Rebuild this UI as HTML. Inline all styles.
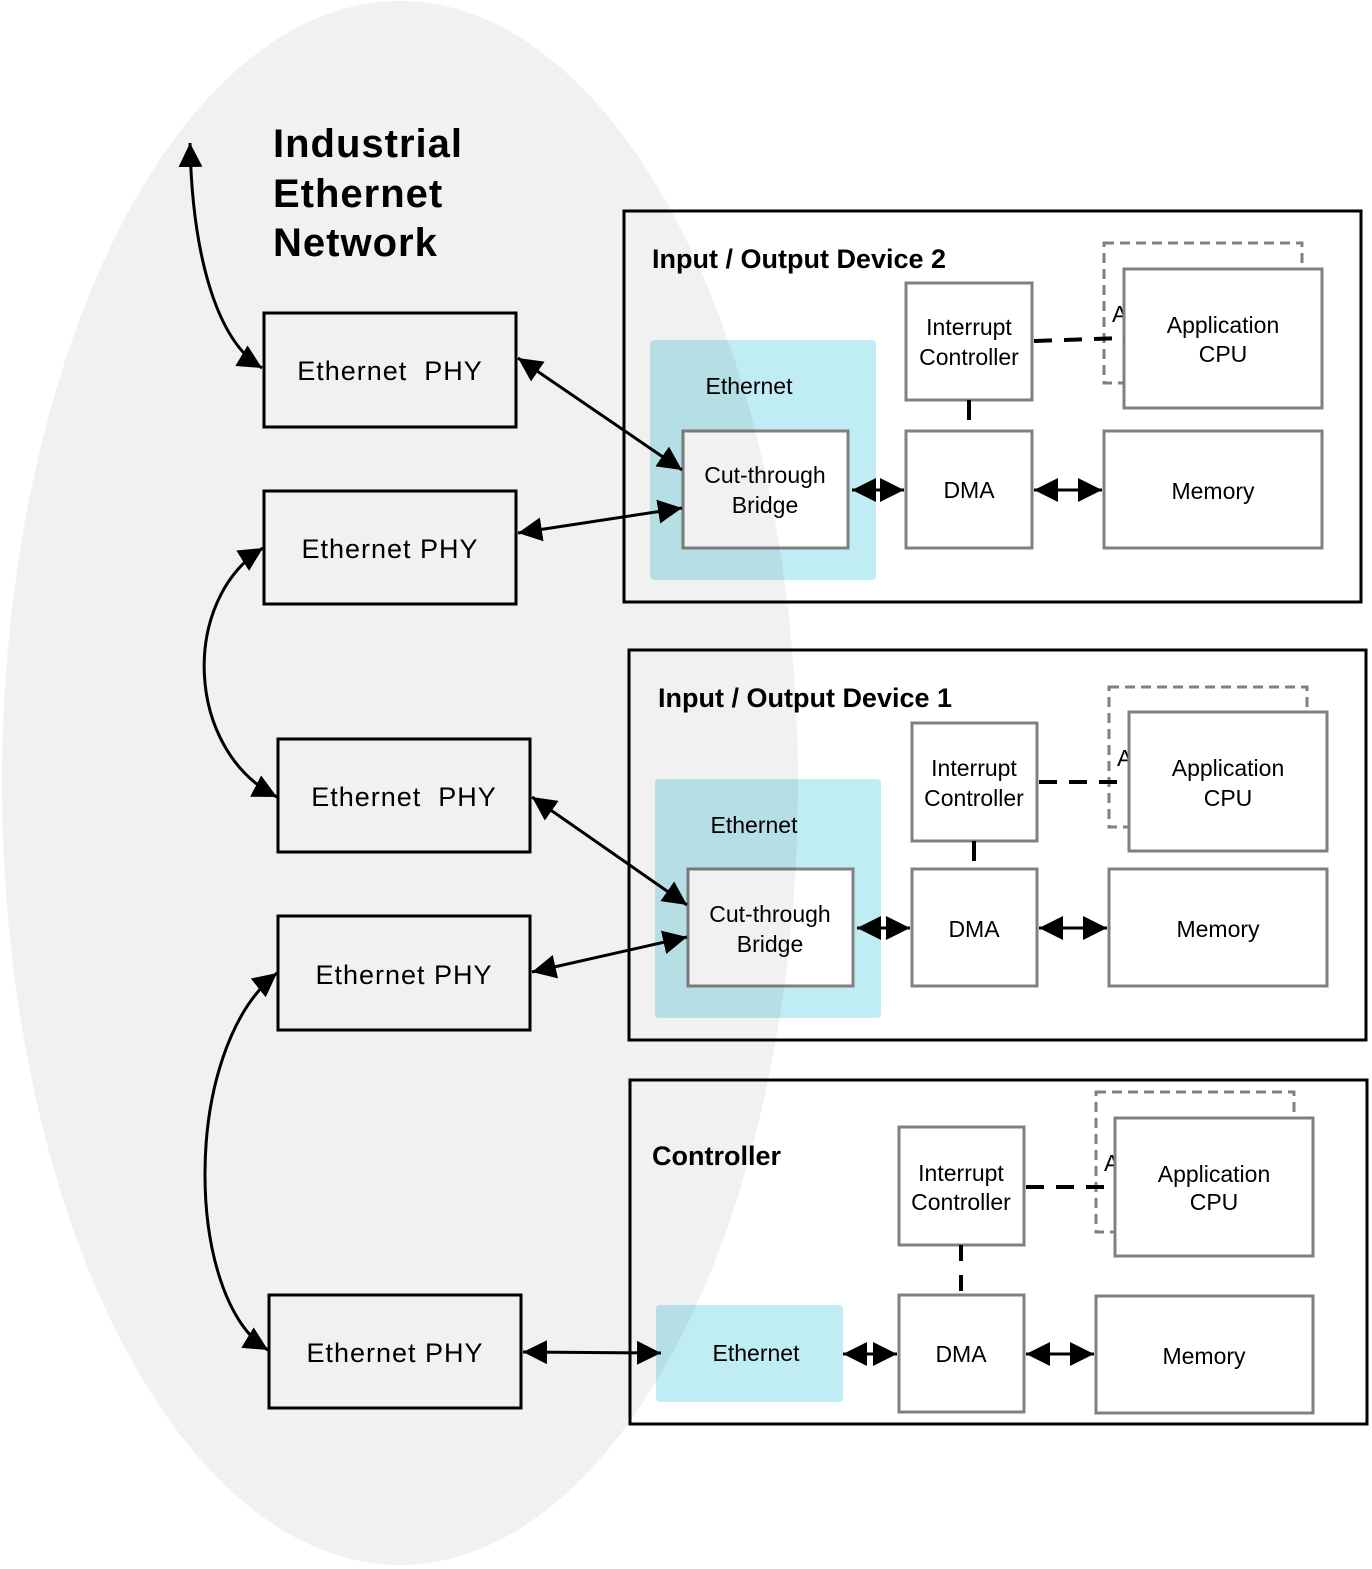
<!DOCTYPE html>
<html><head><meta charset="utf-8"><style>
html,body{margin:0;padding:0;background:#fff}
svg{display:block}
text{font-family:"Liberation Sans",Arial,sans-serif;fill:#000}
</style></head><body>
<svg width="1372" height="1569" viewBox="0 0 1372 1569" xmlns="http://www.w3.org/2000/svg">
<defs>
<marker id="b" viewBox="0 0 10 10" refX="10" refY="5" markerWidth="24" markerHeight="24" markerUnits="userSpaceOnUse" orient="auto-start-reverse"><path d="M0,0L10,5L0,10z" fill="#000"/></marker>
</defs>
<rect width="1372" height="1569" fill="#fff"/>

<!-- Device 2 -->
<g>
<rect x="624" y="211" width="737" height="391" fill="#fff" stroke="#000" stroke-width="3"/>
<text x="652" y="268" font-size="27" font-weight="bold">Input / Output Device 2</text>
<rect x="650" y="340" width="226" height="240" rx="4" fill="#c0ecf3"/>
<text x="749" y="394" font-size="23" text-anchor="middle">Ethernet</text>
<rect x="683" y="431" width="165" height="117" fill="#fff" stroke="#808080" stroke-width="3"/>
<text x="765" y="483" font-size="23" text-anchor="middle">Cut-through</text>
<text x="765" y="513" font-size="23" text-anchor="middle">Bridge</text>
<rect x="906" y="283" width="126" height="117" fill="#fff" stroke="#808080" stroke-width="3"/>
<text x="969" y="335" font-size="23" text-anchor="middle">Interrupt</text>
<text x="969" y="365" font-size="23" text-anchor="middle">Controller</text>
<rect x="906" y="431" width="126" height="117" fill="#fff" stroke="#808080" stroke-width="3"/>
<text x="969" y="498" font-size="23" text-anchor="middle">DMA</text>
<rect x="1104" y="431" width="218" height="117" fill="#fff" stroke="#808080" stroke-width="3"/>
<text x="1213" y="499" font-size="23" text-anchor="middle">Memory</text>
<rect x="1104" y="243" width="198" height="140" fill="#fff" stroke="#808080" stroke-width="3" stroke-dasharray="10,6"/>
<text x="1112" y="322" font-size="23">A</text>
<rect x="1124" y="269" width="198" height="139" fill="#fff" stroke="#808080" stroke-width="3"/>
<text x="1223" y="333" font-size="23" text-anchor="middle">Application</text>
<text x="1223" y="362" font-size="23" text-anchor="middle">CPU</text>
<line x1="1034" y1="341" x2="1124" y2="338" stroke="#000" stroke-width="4" stroke-dasharray="18,12"/>
<line x1="969" y1="400" x2="969" y2="420" stroke="#000" stroke-width="4"/>
<line x1="852" y1="490" x2="904" y2="490" stroke="#000" stroke-width="3" marker-start="url(#b)" marker-end="url(#b)"/>
<line x1="1034" y1="490" x2="1102" y2="490" stroke="#000" stroke-width="3" marker-start="url(#b)" marker-end="url(#b)"/>
</g>

<!-- Device 1 -->
<g>
<rect x="629" y="650" width="737" height="390" fill="#fff" stroke="#000" stroke-width="3"/>
<text x="658" y="707" font-size="27" font-weight="bold">Input / Output Device 1</text>
<rect x="655" y="779" width="226" height="239" rx="4" fill="#c0ecf3"/>
<text x="754" y="833" font-size="23" text-anchor="middle">Ethernet</text>
<rect x="688" y="869" width="165" height="117" fill="#fff" stroke="#808080" stroke-width="3"/>
<text x="770" y="922" font-size="23" text-anchor="middle">Cut-through</text>
<text x="770" y="952" font-size="23" text-anchor="middle">Bridge</text>
<rect x="912" y="723" width="125" height="118" fill="#fff" stroke="#808080" stroke-width="3"/>
<text x="974" y="776" font-size="23" text-anchor="middle">Interrupt</text>
<text x="974" y="806" font-size="23" text-anchor="middle">Controller</text>
<rect x="912" y="869" width="125" height="117" fill="#fff" stroke="#808080" stroke-width="3"/>
<text x="974" y="937" font-size="23" text-anchor="middle">DMA</text>
<rect x="1109" y="869" width="218" height="117" fill="#fff" stroke="#808080" stroke-width="3"/>
<text x="1218" y="937" font-size="23" text-anchor="middle">Memory</text>
<rect x="1109" y="687" width="198" height="140" fill="#fff" stroke="#808080" stroke-width="3" stroke-dasharray="10,6"/>
<text x="1117" y="766" font-size="23">A</text>
<rect x="1129" y="712" width="198" height="139" fill="#fff" stroke="#808080" stroke-width="3"/>
<text x="1228" y="776" font-size="23" text-anchor="middle">Application</text>
<text x="1228" y="806" font-size="23" text-anchor="middle">CPU</text>
<line x1="1039" y1="782" x2="1129" y2="782" stroke="#000" stroke-width="4" stroke-dasharray="18,12"/>
<line x1="974" y1="841" x2="974" y2="861" stroke="#000" stroke-width="4"/>
<line x1="857" y1="928" x2="910" y2="928" stroke="#000" stroke-width="3" marker-start="url(#b)" marker-end="url(#b)"/>
<line x1="1039" y1="928" x2="1107" y2="928" stroke="#000" stroke-width="3" marker-start="url(#b)" marker-end="url(#b)"/>
</g>

<!-- Controller -->
<g>
<rect x="630" y="1080" width="737" height="344" fill="#fff" stroke="#000" stroke-width="3"/>
<text x="652" y="1165" font-size="27" font-weight="bold">Controller</text>
<rect x="656" y="1305" width="187" height="97" rx="4" fill="#c0ecf3"/>
<text x="756" y="1361" font-size="23" text-anchor="middle">Ethernet</text>
<rect x="899" y="1127" width="125" height="118" fill="#fff" stroke="#808080" stroke-width="3"/>
<text x="961" y="1181" font-size="23" text-anchor="middle">Interrupt</text>
<text x="961" y="1210" font-size="23" text-anchor="middle">Controller</text>
<rect x="899" y="1295" width="125" height="117" fill="#fff" stroke="#808080" stroke-width="3"/>
<text x="961" y="1362" font-size="23" text-anchor="middle">DMA</text>
<rect x="1096" y="1296" width="217" height="117" fill="#fff" stroke="#808080" stroke-width="3"/>
<text x="1204" y="1364" font-size="23" text-anchor="middle">Memory</text>
<rect x="1096" y="1092" width="198" height="140" fill="#fff" stroke="#808080" stroke-width="3" stroke-dasharray="10,6"/>
<text x="1104" y="1171" font-size="23">A</text>
<rect x="1115" y="1118" width="198" height="138" fill="#fff" stroke="#808080" stroke-width="3"/>
<text x="1214" y="1182" font-size="23" text-anchor="middle">Application</text>
<text x="1214" y="1210" font-size="23" text-anchor="middle">CPU</text>
<line x1="1026" y1="1187" x2="1115" y2="1187" stroke="#000" stroke-width="4" stroke-dasharray="18,12"/>
<line x1="961" y1="1245" x2="961" y2="1295" stroke="#000" stroke-width="4" stroke-dasharray="16,14"/>
<line x1="843" y1="1354" x2="897" y2="1354" stroke="#000" stroke-width="3" marker-start="url(#b)" marker-end="url(#b)"/>
<line x1="1026" y1="1354" x2="1094" y2="1354" stroke="#000" stroke-width="3" marker-start="url(#b)" marker-end="url(#b)"/>
</g>

<!-- PHY boxes -->
<g fill="none" stroke="#000" stroke-width="3">
<rect x="264" y="313" width="252" height="114"/>
<rect x="264" y="491" width="252" height="113"/>
<rect x="278" y="739" width="252" height="113"/>
<rect x="278" y="916" width="252" height="114"/>
<rect x="269" y="1295" width="252" height="113"/>
</g>
<g font-size="27" text-anchor="middle" letter-spacing="1">
<text x="390" y="380" xml:space="preserve">Ethernet  PHY</text>
<text x="390" y="558">Ethernet PHY</text>
<text x="404" y="806" xml:space="preserve">Ethernet  PHY</text>
<text x="404" y="984">Ethernet PHY</text>
<text x="395" y="1362">Ethernet PHY</text>
</g>
<g font-size="40" font-weight="bold" letter-spacing="1">
<text x="273" y="157">Industrial</text>
<text x="273" y="207">Ethernet</text>
<text x="273" y="256">Network</text>
</g>

<!-- connectors -->
<g fill="none" stroke="#000" stroke-width="3">
<path d="M190,143 C192,250 215,340 262,368" marker-start="url(#b)" marker-end="url(#b)"/>
<path d="M263,548 C180,600 185,750 277,797" marker-start="url(#b)" marker-end="url(#b)"/>
<path d="M277,973 C180,1050 185,1300 268,1350" marker-start="url(#b)" marker-end="url(#b)"/>
<line x1="518" y1="358" x2="682" y2="470" marker-start="url(#b)" marker-end="url(#b)"/>
<line x1="518" y1="533" x2="682" y2="508" marker-start="url(#b)" marker-end="url(#b)"/>
<line x1="532" y1="797" x2="687" y2="905" marker-start="url(#b)" marker-end="url(#b)"/>
<line x1="532" y1="972" x2="687" y2="937" marker-start="url(#b)" marker-end="url(#b)"/>
<line x1="523" y1="1352" x2="661" y2="1353" marker-start="url(#b)" marker-end="url(#b)"/>
</g>

<!-- ellipse overlay -->
<ellipse cx="400" cy="783" rx="398" ry="782" fill="#000" fill-opacity="0.055"/>
</svg>
</body></html>
